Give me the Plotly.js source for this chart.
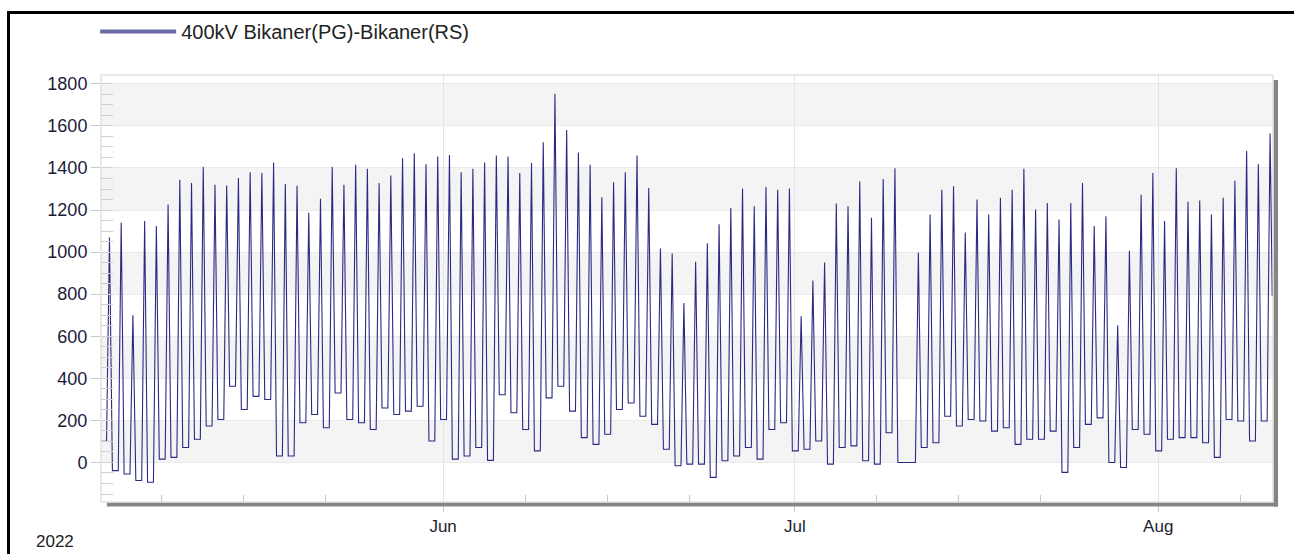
<!DOCTYPE html>
<html>
<head>
<meta charset="utf-8">
<script src="https://cdn.plot.ly/plotly-3.0.1.min.js"></script>
<style>
  html, body { margin: 0; padding: 0; background: #ffffff; }
  #wrap { position: relative; width: 1294px; height: 554px; overflow: hidden; }
  #frame { position: absolute; left: 7px; top: 11px; width: 1400px; height: 700px;
           border-left: 3px solid #000; border-top: 3px solid #000; }
  #chart { position: absolute; left: 0; top: 0; width: 1294px; height: 554px; }
</style>
</head>
<body>
<div id="wrap"><div id="frame"></div><div id="chart"></div></div>
<script>
// ---- data ----
const seriesName = '400kV Bikaner(PG)-Bikaner(RS)';
const firstDay = '2022-05-03';
// daily midday peak flow (MW), 3 May .. 10 Aug 2022
const dailyPeak = [
  1069, 1140, 700, 1148, 1124, 1226, 1344, 1328, 1404, 1320,
  1317, 1352, 1380, 1376, 1426, 1324, 1316, 1187, 1254, 1405,
  1320, 1415, 1396, 1328, 1364, 1446, 1470, 1418, 1454,
  1462, 1380, 1396, 1426, 1459, 1454, 1376, 1423, 1522, 1753,
  1580, 1473, 1415, 1261, 1332, 1380, 1459, 1305, 1017, 993,
  758, 954, 1042, 1132, 1210, 1302, 1218, 1309, 1297, 1302,
  695, 865, 951, 1231, 1218, 1336, 1163, 1347, 1399, 0,
  998, 1179, 1297, 1313, 1093, 1250, 1179, 1258, 1297, 1396,
  1203, 1234, 1155, 1234, 1328, 1124, 1171, 652, 1006, 1273, 1376,
  1148, 1399, 1239, 1245, 1179, 1258, 1339, 1481, 1418, 1564
];
// night level following each day (MW), night of 3 May .. night of 9 Aug
const nightLevel = [
  -39, -55, -86, -94, 16, 24, 71, 110, 173, 204,
  362, 252, 314, 299, 31, 31, 189, 228, 165, 330,
  204, 189, 157, 259, 228, 244, 267, 102, 204,
  16, 31, 71, 10, 322, 236, 157, 55, 307, 362,
  244, 118, 86, 134, 252, 283, 220, 181, 63, -16,
  -8, -8, -71, 8, 31, 71, 16, 157, 189, 55,
  63, 102, -8, 71, 79, 8, -8, 141, 0, 0,
  71, 94, 220, 173, 204, 197, 149, 165, 86, 110,
  110, 149, -47, 71, 181, 212, 0, -24, 157, 134, 55,
  110, 118, 118, 94, 24, 204, 197, 102, 197
];
const nightBeforeFirstDay = 100;
const lastValue = 790;

const yTicks = [0, 200, 400, 600, 800, 1000, 1200, 1400, 1600, 1800];
const monthTicks = ['2022-06-01', '2022-07-01', '2022-08-01'];
const monthLabels = ['Jun', 'Jul', 'Aug'];
const weekTicks = ['2022-05-08', '2022-05-15', '2022-05-22',
                   '2022-06-08', '2022-06-15', '2022-06-22',
                   '2022-07-08', '2022-07-15', '2022-07-22',
                   '2022-08-08'];
const yearLabel = '2022';

// ---- build the time series (dawn / midday / dusk of each day) ----
const base = Date.parse(firstDay + 'T00:00:00Z');
function stamp(dayIndex, hour, minute) {
  const t = base + dayIndex * 86400000 + hour * 3600000 + minute * 60000;
  return new Date(t).toISOString().slice(0, 16).replace('T', ' ');
}
const xs = [], ys = [];
xs.push(stamp(-1, 20, 0)); ys.push(nightBeforeFirstDay);
for (let i = 0; i < dailyPeak.length; i++) {
  xs.push(stamp(i, 7, 0)); ys.push(i === 0 ? nightBeforeFirstDay : nightLevel[i - 1]);
  xs.push(stamp(i, 13, 0)); ys.push(dailyPeak[i]);
  if (i < nightLevel.length) { xs.push(stamp(i, 19, 0)); ys.push(nightLevel[i]); }
  else { xs.push(stamp(i, 17, 30)); ys.push(lastValue); }
}

const traces = [
  { x: xs, y: ys, type: 'scatter', mode: 'lines', name: seriesName,
    line: { color: '#2a2a84', width: 1.1 }, showlegend: false, hoverinfo: 'x+y' },
  { x: [null], y: [null], type: 'scatter', mode: 'lines', name: seriesName,
    line: { color: '#6a6aa6', width: 4 }, showlegend: true, hoverinfo: 'skip' }
];

// alternating horizontal bands
const shapes = [];
yTicks.forEach(function (v, k) {
  if (k % 2 === 0 && k + 1 < yTicks.length) {
    shapes.push({ type: 'rect', xref: 'paper', yref: 'y', x0: 0, x1: 1, y0: v, y1: yTicks[k + 1],
                  fillcolor: '#f4f4f4', line: { width: 0 }, layer: 'below' });
  }
});
// plot frame and 3D shadow on bottom/right
shapes.push({ type: 'rect', xref: 'paper', yref: 'paper', x0: 0, x1: 1, y0: 0, y1: 1,
              line: { color: '#d4d4d4', width: 1 }, fillcolor: 'rgba(0,0,0,0)', layer: 'above' });
shapes.push({ type: 'rect', xref: 'paper', yref: 'paper', x0: 0.005, x1: 1.0043, y0: -0.0105, y1: -0.0015,
              line: { width: 0 }, fillcolor: '#858585', layer: 'above' });
shapes.push({ type: 'rect', xref: 'paper', yref: 'paper', x0: 1.0007, x1: 1.0043, y0: -0.0105, y1: 0.988,
              line: { width: 0 }, fillcolor: '#858585', layer: 'above' });

const layout = {
  width: 1294, height: 554,
  margin: { l: 101, r: 21, t: 71, b: 52 },
  paper_bgcolor: 'rgba(0,0,0,0)',
  plot_bgcolor: '#ffffff',
  font: { family: 'Liberation Sans, Arial, sans-serif', size: 17, color: '#222' },
  showlegend: true,
  legend: { x: -0.005, xanchor: 'left', y: 1.102, yanchor: 'middle', orientation: 'h',
            itemwidth: 76, font: { size: 20, color: '#222' }, bgcolor: 'rgba(0,0,0,0)' },
  xaxis: {
    type: 'date',
    range: ['2022-05-02 19:40', '2022-08-10 19:00'],
    tickmode: 'array', tickvals: monthTicks, ticktext: monthLabels,
    ticks: 'outside', ticklen: 9, tickcolor: '#c8c8c8', tickwidth: 1,
    showgrid: true, gridcolor: '#e4e4e4', gridwidth: 1,
    showline: false, zeroline: false,
    tickfont: { size: 17, color: '#1e1e2e' },
    minor: { tickmode: 'array', tickvals: weekTicks, ticks: 'inside', ticklen: 7,
             tickcolor: '#c8c8c8', showgrid: false }
  },
  yaxis: {
    range: [-188, 1842],
    tickmode: 'array', tickvals: yTicks,
    ticks: 'outside', ticklen: 9, tickcolor: '#c8c8c8',
    showgrid: true, gridcolor: '#eaeaea', zeroline: false, showline: false,
    tickfont: { size: 18, color: '#1c1c3a' },
    minor: { dtick: 50, tick0: 0, ticks: 'inside', ticklen: 12, tickcolor: '#d0d0d0', showgrid: false }
  },
  shapes: shapes,
  annotations: [
    { text: yearLabel, xref: 'paper', yref: 'paper', x: -0.039, y: -0.093,
      xanchor: 'center', yanchor: 'middle', showarrow: false, font: { size: 17, color: '#222' } }
  ]
};

Plotly.newPlot('chart', traces, layout, { displayModeBar: false, staticPlot: true });
</script>
</body>
</html>
